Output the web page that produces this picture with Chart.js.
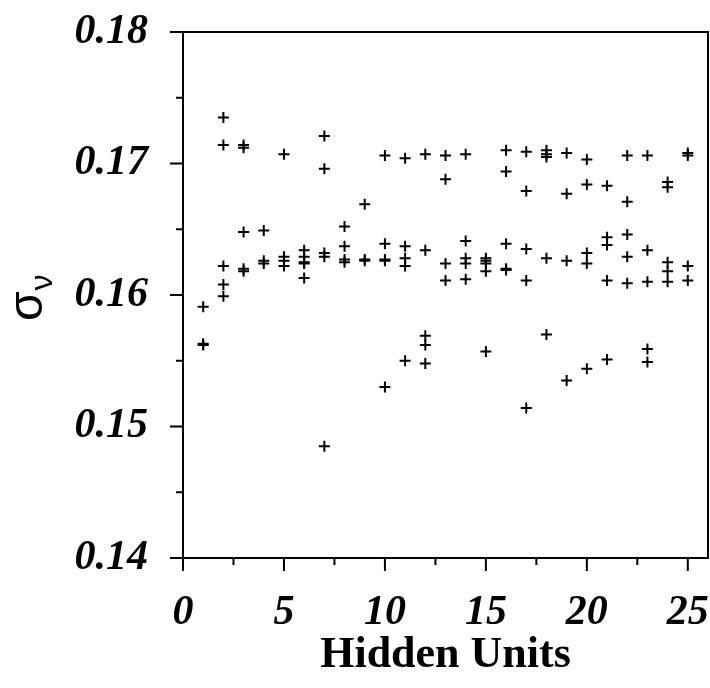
<!DOCTYPE html>
<html>
<head>
<meta charset="utf-8">
<script src="https://cdn.jsdelivr.net/npm/chart.js@4"></script>
<style>
  html, body { margin: 0; padding: 0; background: #fff; }
</style>
</head>
<body>
<canvas id="chart" width="710" height="688"></canvas>
<script>
// network size on the x axis, one column of repeated runs per size
const hiddenUnits = [1, 2, 3, 4, 5, 6, 7, 8, 9, 10, 11, 12, 13, 14, 15, 16, 17, 18, 19, 20, 21, 22, 23, 24, 25];
const sigmaRuns = [
  [0.1591, 0.1563, 0.1562],
  [0.1735, 0.1714, 0.1622, 0.1608, 0.1599],
  [0.1714, 0.1712, 0.1648, 0.1620, 0.1618],
  [0.1649, 0.1626, 0.1624],
  [0.1707, 0.1629, 0.1626, 0.1622],
  [0.1634, 0.1629, 0.1625, 0.1624, 0.1613],
  [0.1721, 0.1696, 0.1632, 0.1629, 0.1485],
  [0.1652, 0.1637, 0.1627, 0.1625],
  [0.1669, 0.1627, 0.1626],
  [0.1706, 0.1639, 0.1627, 0.1626, 0.1530],
  [0.1704, 0.1637, 0.1628, 0.1622, 0.1550],
  [0.1707, 0.1634, 0.1569, 0.1562, 0.1548],
  [0.1706, 0.1688, 0.1624, 0.1611],
  [0.1707, 0.1641, 0.1628, 0.1624, 0.1612],
  [0.1628, 0.1626, 0.1624, 0.1618, 0.1557],
  [0.1710, 0.1694, 0.1639, 0.1620, 0.1619],
  [0.1709, 0.1679, 0.1635, 0.1611, 0.1514],
  [0.1710, 0.1707, 0.1705, 0.1628, 0.1570],
  [0.1708, 0.1677, 0.1626, 0.1535],
  [0.1703, 0.1684, 0.1632, 0.1624, 0.1544],
  [0.1683, 0.1644, 0.1638, 0.1611, 0.1551],
  [0.1706, 0.1671, 0.1646, 0.1629, 0.1609],
  [0.1706, 0.1634, 0.1610, 0.1559, 0.1549],
  [0.1686, 0.1682, 0.1625, 0.1618, 0.1610],
  [0.1708, 0.1706, 0.1622, 0.1611]
];

const xTicks = [0, 5, 10, 15, 20, 25];
const xMinorTicks = [2.5, 7.5, 12.5, 17.5, 22.5];
const yTicks = [0.14, 0.15, 0.16, 0.17, 0.18];
const yMinorTicks = [0.145, 0.155, 0.165, 0.175];

const points = hiddenUnits.flatMap((h, i) => sigmaRuns[i].map(s => ({ x: h, y: s })));

const tickFont = { family: '"Liberation Serif", "Times New Roman", serif', size: 42, weight: 'bold', style: 'italic' };

// box around the plot plus outward tick marks (long on labelled values, short between)
const frameAndTicks = {
  id: 'frameAndTicks',
  afterDraw(chart) {
    const { ctx, chartArea: a, scales: { x, y } } = chart;
    ctx.save();
    ctx.strokeStyle = '#000';
    ctx.lineWidth = 2;
    ctx.strokeRect(a.left, a.top, a.right - a.left, a.bottom - a.top);
    ctx.beginPath();
    xTicks.forEach(v => { const px = x.getPixelForValue(v); ctx.moveTo(px, a.bottom); ctx.lineTo(px, a.bottom + 13); });
    xMinorTicks.forEach(v => { const px = x.getPixelForValue(v); ctx.moveTo(px, a.bottom); ctx.lineTo(px, a.bottom + 7); });
    yTicks.forEach(v => { const py = y.getPixelForValue(v); ctx.moveTo(a.left, py); ctx.lineTo(a.left - 13, py); });
    yMinorTicks.forEach(v => { const py = y.getPixelForValue(v); ctx.moveTo(a.left, py); ctx.lineTo(a.left - 7, py); });
    ctx.stroke();

    // sigma_nu axis title, rotated
    ctx.translate(42, (a.top + a.bottom) / 2 + 26);
    ctx.rotate(-Math.PI / 2);
    ctx.fillStyle = '#000';
    ctx.textBaseline = 'alphabetic';
    ctx.font = '48px "Liberation Sans", Arial, sans-serif';
    ctx.fillText('σ', 0, 0);
    const w = ctx.measureText('σ').width;
    ctx.font = '32px "Liberation Sans", Arial, sans-serif';
    ctx.fillText('ν', w + 1, 10);
    ctx.restore();
  }
};

new Chart(document.getElementById('chart'), {
  type: 'scatter',
  data: {
    datasets: [{
      data: points,
      pointStyle: 'cross',
      pointRadius: 5.5,
      pointBorderWidth: 2,
      pointBorderColor: '#000',
      pointBackgroundColor: '#000'
    }]
  },
  options: {
    responsive: false,
    animation: false,
    events: [],
    layout: { autoPadding: false, padding: { top: 32, right: 2 } },
    plugins: { legend: { display: false }, tooltip: { enabled: false } },
    scales: {
      x: {
        type: 'linear',
        min: 0,
        max: 26,
        afterBuildTicks: s => { s.ticks = xTicks.map(v => ({ value: v })); },
        afterFit: s => { s.height = 130; s.paddingLeft = 0; s.paddingRight = 0; },
        grid: { display: false },
        border: { display: false },
        ticks: { font: tickFont, color: '#000', padding: 22, maxRotation: 0, autoSkip: false },
        title: {
          display: true,
          text: 'Hidden Units',
          color: '#000',
          font: { family: '"Liberation Serif", "Times New Roman", serif', size: 44, weight: 'bold' },
          padding: { top: 0, bottom: 6 }
        }
      },
      y: {
        min: 0.14,
        max: 0.18,
        afterBuildTicks: s => { s.ticks = yTicks.map(v => ({ value: v })); },
        afterFit: s => { s.width = 183; s.paddingTop = 0; s.paddingBottom = 0; },
        grid: { display: false },
        border: { display: false },
        ticks: { font: tickFont, color: '#000', padding: 27, callback: v => v.toFixed(2) }
      }
    }
  },
  plugins: [frameAndTicks]
});
</script>
</body>
</html>
